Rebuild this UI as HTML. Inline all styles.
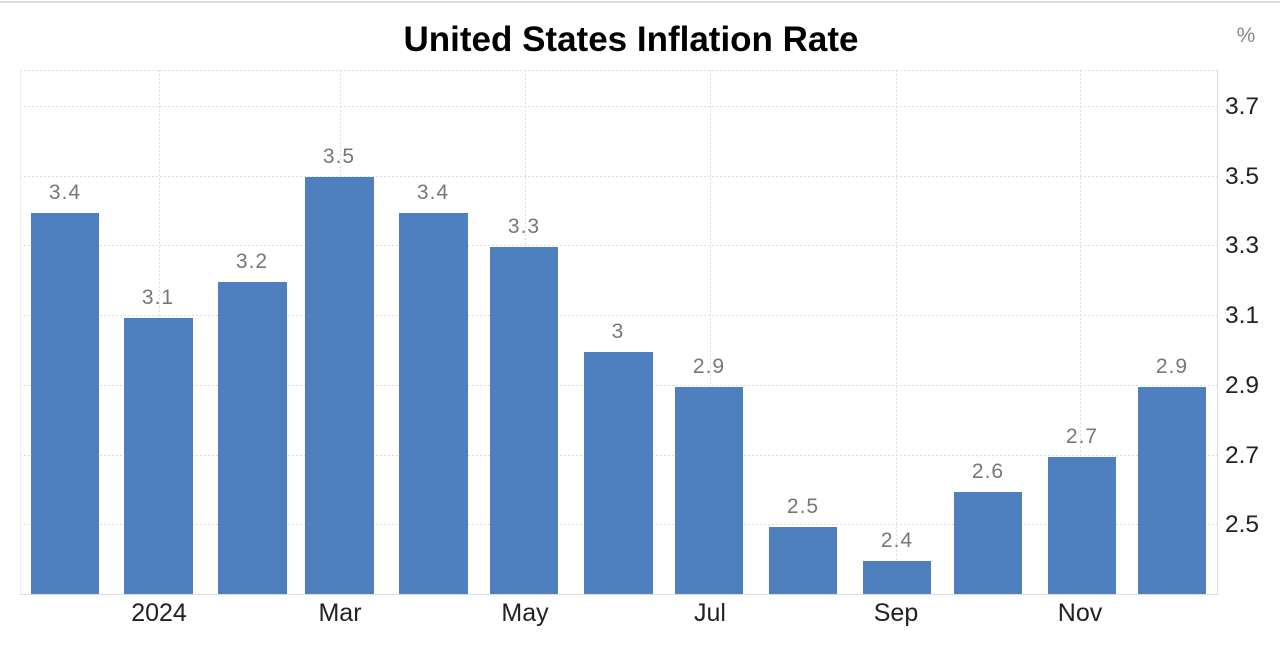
<!DOCTYPE html>
<html><head><meta charset="utf-8"><style>
html,body{margin:0;padding:0;background:#fff;width:1280px;height:660px;overflow:hidden}
svg{display:block}
</style></head><body>
<svg width="1280" height="660" xmlns="http://www.w3.org/2000/svg" font-family="Liberation Sans, Arial, sans-serif">
<line x1="0" y1="2" x2="1280" y2="2" stroke="#ddd" stroke-width="2"/>
<text x="631" y="51" text-anchor="middle" font-size="35" font-weight="bold" fill="#000">United States Inflation Rate</text>
<text x="1246" y="42" text-anchor="middle" font-size="21" fill="#888">%</text>
<g stroke="#ddd" stroke-width="1" stroke-dasharray="2,2">
<line x1="20" y1="70.5" x2="1217" y2="70.5"/>
<line x1="20" y1="106.5" x2="1217" y2="106.5"/>
<line x1="20" y1="176.5" x2="1217" y2="176.5"/>
<line x1="20" y1="245.5" x2="1217" y2="245.5"/>
<line x1="20" y1="315.5" x2="1217" y2="315.5"/>
<line x1="20" y1="385.5" x2="1217" y2="385.5"/>
<line x1="20" y1="455.5" x2="1217" y2="455.5"/>
<line x1="20" y1="524.5" x2="1217" y2="524.5"/>
<line x1="159.5" y1="70" x2="159.5" y2="594"/>
<line x1="340.5" y1="70" x2="340.5" y2="594"/>
<line x1="525.5" y1="70" x2="525.5" y2="594"/>
<line x1="710.5" y1="70" x2="710.5" y2="594"/>
<line x1="896.5" y1="70" x2="896.5" y2="594"/>
<line x1="1080.5" y1="70" x2="1080.5" y2="594"/>
</g>
<line x1="20.5" y1="70" x2="20.5" y2="595" stroke="#eee"/>
<line x1="1217.5" y1="70" x2="1217.5" y2="595" stroke="#ddd"/>
<line x1="20" y1="594.5" x2="1217" y2="594.5" stroke="#ddd"/>
<g fill="#4e80bf">
<rect x="31" y="213" width="68" height="381"/>
<rect x="124" y="318" width="69" height="276"/>
<rect x="218" y="282" width="69" height="312"/>
<rect x="305" y="177" width="69" height="417"/>
<rect x="399" y="213" width="69" height="381"/>
<rect x="490" y="247" width="68" height="347"/>
<rect x="584" y="352" width="69" height="242"/>
<rect x="675" y="387" width="68" height="207"/>
<rect x="769" y="527" width="68" height="67"/>
<rect x="863" y="561" width="68" height="33"/>
<rect x="954" y="492" width="68" height="102"/>
<rect x="1048" y="457" width="68" height="137"/>
<rect x="1138" y="387" width="68" height="207"/>
</g>
<g font-size="21" fill="#777" text-anchor="middle" letter-spacing="1">
<text x="65" y="199">3.4</text>
<text x="158" y="304">3.1</text>
<text x="252" y="268">3.2</text>
<text x="339" y="163">3.5</text>
<text x="433" y="199">3.4</text>
<text x="524" y="233">3.3</text>
<text x="618" y="338">3</text>
<text x="709" y="373">2.9</text>
<text x="803" y="513">2.5</text>
<text x="897" y="547">2.4</text>
<text x="988" y="478">2.6</text>
<text x="1082" y="443">2.7</text>
<text x="1172" y="373">2.9</text>
</g>
<g font-size="24.5" fill="#222">
<text x="1225" y="114">3.7</text>
<text x="1225" y="184">3.5</text>
<text x="1225" y="253">3.3</text>
<text x="1225" y="323">3.1</text>
<text x="1225" y="393">2.9</text>
<text x="1225" y="463">2.7</text>
<text x="1225" y="532">2.5</text>
</g>
<g font-size="25" fill="#222" text-anchor="middle">
<text x="159" y="621">2024</text>
<text x="340" y="621">Mar</text>
<text x="525" y="621">May</text>
<text x="710" y="621">Jul</text>
<text x="896" y="621">Sep</text>
<text x="1080" y="621">Nov</text>
</g>
</svg>
</body></html>
